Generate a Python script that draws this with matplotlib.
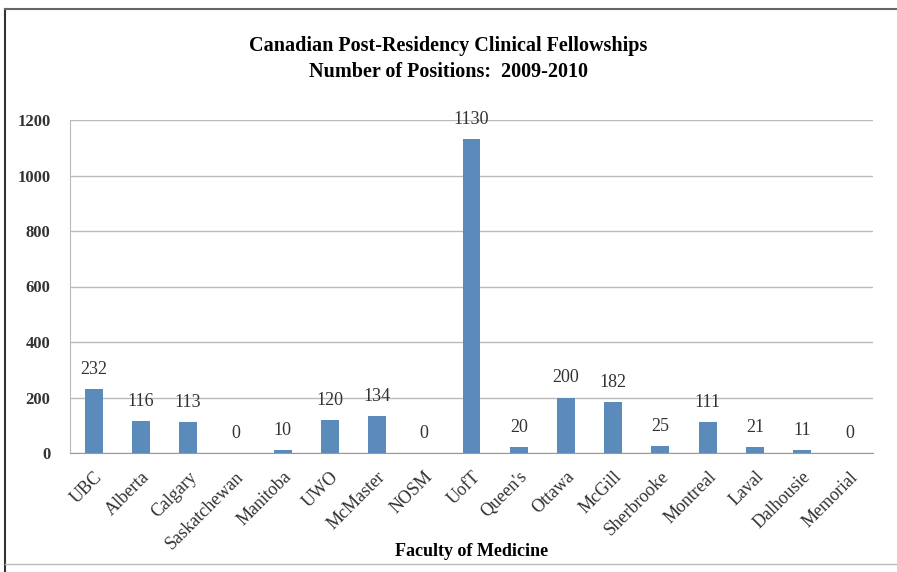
import matplotlib.pyplot as plt
from matplotlib.lines import Line2D

# Data
faculties = ["UBC", "Alberta", "Calgary", "Saskatchewan", "Manitoba", "UWO",
             "McMaster", "NOSM", "UofT", "Queen's", "Ottawa", "McGill",
             "Sherbrooke", "Montreal", "Laval", "Dalhousie", "Memorial"]
positions = [232, 116, 113, 0, 10, 120, 134, 0, 1130, 20, 200, 182, 25, 111, 21, 11, 0]
yTicks = [0, 200, 400, 600, 800, 1000, 1200]

plt.rcParams["font.family"] = ["Liberation Serif", "DejaVu Serif"]

fig = plt.figure(figsize=(8.97, 5.72), dpi=100)
W, H = 897, 572
ax = fig.add_axes([70 / W, 1 - 453 / H, (873 - 70) / W, (453 - 120) / H])

x = range(len(faculties))
ax.bar(x, positions, width=0.38, color="#5A8BBA", zorder=3)
for xi, v in zip(x, positions):
    ax.annotate(str(v), (xi, v), xytext=(0, 8), textcoords="offset points",
                ha="center", va="bottom", fontsize=13, color="#333333")

ax.set_xlim(-0.5, len(faculties) - 0.5)
ax.set_ylim(0, 1200)
ax.set_yticks(yTicks)
ax.set_yticklabels([str(t) for t in yTicks], fontsize=12, fontweight="bold", color="#333333")
ax.set_xticks(list(x))
ax.set_xticklabels(faculties, rotation=45, ha="right", rotation_mode="anchor",
                   fontsize=13, color="#333333")
ax.tick_params(axis="y", length=0, pad=14)
ax.tick_params(axis="x", length=0, pad=11)
ax.grid(axis="y", color="#BBBBBB", lw=1, zorder=0)
for s in ["top", "right"]:
    ax.spines[s].set_visible(False)
ax.spines["left"].set_color("#BBBBBB")
ax.spines["bottom"].set_color("#999999")

ax.set_xlabel("Faculty of Medicine", fontsize=13, fontweight="bold")
ax.xaxis.set_label_coords(0.5, -0.27)

fig.text(0.5, 1 - 46 / H, "Canadian Post-Residency Clinical Fellowships",
         ha="center", va="center", fontsize=14.5, fontweight="bold")
fig.text(0.5, 1 - 72 / H, "Number of Positions:  2009-2010",
         ha="center", va="center", fontsize=14.5, fontweight="bold")

# outer frame
fig.add_artist(Line2D([5 / W, 5 / W], [0, 1 - 9 / H], color="#333333", lw=1.5))
fig.add_artist(Line2D([5 / W, 1], [1 - 9 / H, 1 - 9 / H], color="#666666", lw=1.5))
fig.add_artist(Line2D([5 / W, 1], [1 - 564 / H, 1 - 564 / H], color="#BBBBBB", lw=1))

fig.savefig("out.png", dpi=100)
